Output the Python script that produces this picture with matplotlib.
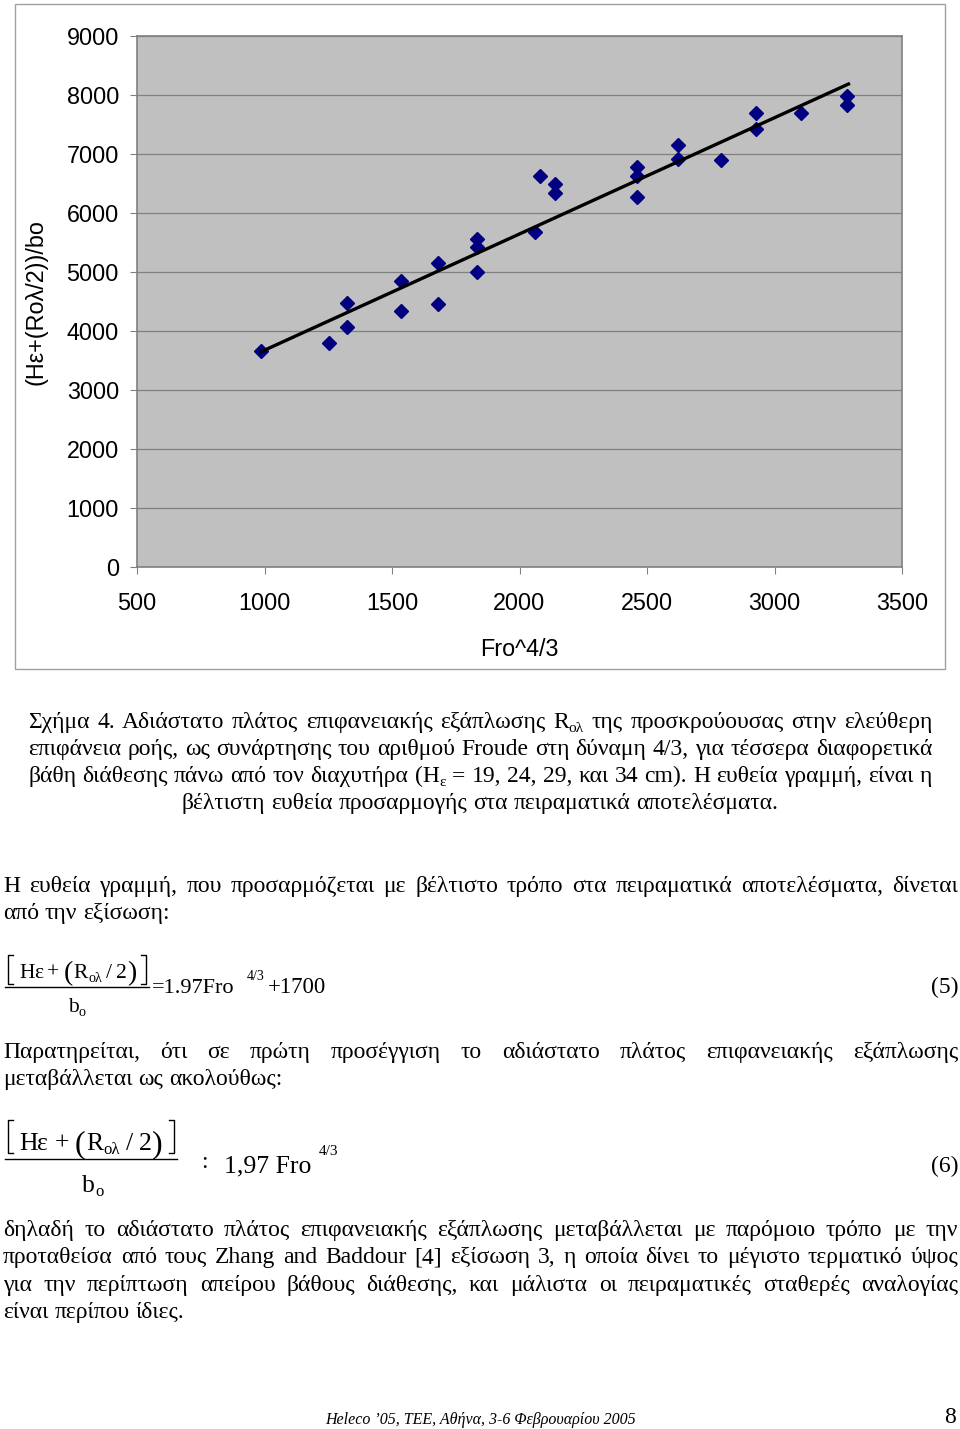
import matplotlib
matplotlib.use("Agg")
import matplotlib.pyplot as plt
from matplotlib.patches import Rectangle

# ---- chart data -------------------------------------------------------
fro43 = [985, 1253, 1322, 1322, 1535, 1535, 1682, 1682, 1832, 1832, 1832,
         2061, 2080, 2139, 2139, 2460, 2460, 2460, 2623, 2623, 2789,
         2927, 2927, 3105, 3285, 3285]
width_ratio = [3651, 3786, 4464, 4058, 4837, 4329, 5142, 4458, 5549, 5419, 4995,
               5668, 6617, 6481, 6339, 6780, 6622, 6271, 7153, 6910, 6888,
               7695, 7414, 7695, 7978, 7825]
fit_x = [985, 3290]          # best-fit line ends: y = 1.97 x + 1700
fit_y = [3640, 8181]
x_ticks = [500, 1000, 1500, 2000, 2500, 3000, 3500]
y_ticks = [0, 1000, 2000, 3000, 4000, 5000, 6000, 7000, 8000, 9000]
x_label = "Fro^4/3"
y_label = "(Hε+(Roλ/2))/bo"

# ---- page text ---------------------------------------------------------
caption_lines = [
    "Σχήμα 4. Αδιάστατο πλάτος επιφανειακής εξάπλωσης R_{ολ} της προσκρούουσας στην ελεύθερη",
    "επιφάνεια ροής, ως συνάρτησης του αριθμού Froude στη δύναμη 4/3, για τέσσερα διαφορετικά",
    "βάθη διάθεσης πάνω από τον διαχυτήρα (H_{ε} = 19, 24, 29, και 34 cm). Η ευθεία γραμμή, είναι η",
    "βέλτιστη ευθεία προσαρμογής στα πειραματικά αποτελέσματα.",
]
para1 = [
    "Η ευθεία γραμμή, που προσαρμόζεται με βέλτιστο τρόπο στα πειραματικά αποτελέσματα, δίνεται",
    "από την εξίσωση:",
]
para2 = [
    "Παρατηρείται, ότι σε πρώτη προσέγγιση το αδιάστατο πλάτος επιφανειακής εξάπλωσης",
    "μεταβάλλεται ως ακολούθως:",
]
para3 = [
    "δηλαδή το αδιάστατο πλάτος επιφανειακής εξάπλωσης μεταβάλλεται με παρόμοιο τρόπο με την",
    "προταθείσα από τους Zhang and Baddour [4] εξίσωση 3, η οποία δίνει το μέγιστο τερματικό ύψος",
    "για την περίπτωση απείρου βάθους διάθεσης, και μάλιστα οι πειραματικές σταθερές αναλογίας",
    "είναι περίπου ίδιες.",
]
footer = "Heleco ’05, ΤΕΕ, Αθήνα, 3-6 Φεβρουαρίου 2005"
page_no = "8"

SANS = ["Liberation Sans", "DejaVu Sans"]
SERIF = ["Liberation Serif", "DejaVu Serif"]
BODY = 17

fig = plt.figure(figsize=(9.6, 14.29), dpi=100)
page = fig.add_axes([0, 0, 1, 1])
page.set_xlim(0, 960)
page.set_ylim(1429, 0)
page.axis("off")
page.add_patch(Rectangle((15, 4), 930, 665, fill=False, ec="#a0a0a0", lw=1))

# ---- chart -------------------------------------------------------------
ax = fig.add_axes([137 / 960, 1 - 566.7 / 1429, 765 / 960, 531 / 1429])
ax.set_facecolor("#c0c0c0")
for s in ax.spines.values():
    s.set_color("#808080")
    s.set_linewidth(1.2)
ax.set_xlim(500, 3500)
ax.set_ylim(0, 9000)
ax.set_xticks(x_ticks)
ax.set_yticks(y_ticks)
ax.set_xticklabels([str(v) for v in x_ticks], family=SANS, fontsize=16.8)
ax.set_yticklabels([str(v) for v in y_ticks], family=SANS, fontsize=16.8)
ax.tick_params(axis="both", direction="out", length=5, width=0.8, color="#808080")
ax.tick_params(axis="y", pad=8)
ax.tick_params(axis="x", pad=13)
ax.yaxis.grid(True, color="#808080", lw=0.9)
ax.set_axisbelow(True)
ax.plot(fro43, width_ratio, "D", color="#000080", ms=6.8, mec="#000080", zorder=3)
ax.plot(fit_x, fit_y, "-", color="black", lw=2.4, zorder=4)

page.text(519.5, 649, x_label, ha="center", va="center", fontsize=16.8, family=SANS)
page.text(36, 302, y_label, ha="center", va="center", rotation=90, fontsize=16.8, family=SANS)

# ---- text helpers --------------------------------------------------------
R = fig.canvas.get_renderer()


def text_w(s, size, **kw):
    t = page.text(0, 0, s, fontsize=size, family=SERIF, **kw)
    w = t.get_window_extent(R).width
    t.remove()
    return w


def word_runs(word):
    out, i = [], 0
    while i < len(word):
        j = word.find("_{", i)
        if j < 0:
            out.append((word[i:], False))
            break
        if j > i:
            out.append((word[i:j], False))
        k = word.find("}", j)
        out.append((word[j + 2:k], True))
        i = k + 1
    return out


def runs_w(runs, size):
    return sum(text_w(s, size * 0.65 if sub else size) for s, sub in runs)


def put_runs(x, y, runs, size, **kw):
    for s, sub in runs:
        fs = size * 0.65 if sub else size
        page.text(x, y + (4 if sub else 0), s, fontsize=fs, family=SERIF,
                  ha="left", va="baseline", **kw)
        x += text_w(s, fs)
    return x


def draw_line(text, x0, x1, y, size=BODY, align="justify"):
    words = [word_runs(w) for w in text.split()]
    ws = [runs_w(r, size) for r in words]
    space = text_w("a a", size) - text_w("aa", size)
    if align == "justify" and len(words) > 1:
        gap, x = (x1 - x0 - sum(ws)) / (len(words) - 1), x0
    else:
        gap = space
        total = sum(ws) + gap * (len(words) - 1)
        x = x0 if align == "left" else (x0 + x1 - total) / 2
    for r, w in zip(words, ws):
        put_runs(x, y, r, size)
        x += w + gap


def paragraph(lines, x0, x1, y0, step, size=BODY):
    for i, ln in enumerate(lines):
        last = i == len(lines) - 1
        draw_line(ln, x0, x1, y0 + i * step, size, "left" if last else "justify")


# caption (justified, last line centred)
for i, ln in enumerate(caption_lines):
    last = i == len(caption_lines) - 1
    draw_line(ln, 28, 932, 728 + i * 27, BODY, "center" if last else "justify")

paragraph(para1, 3, 958, 892, 27)
paragraph(para2, 3, 958, 1058, 27)
paragraph(para3, 3, 958, 1236, 27.3)


# ---- equations -----------------------------------------------------------
def bracket(x, y0, y1, d):
    page.plot([x + d, x, x, x + d], [y0, y0, y1, y1], color="black", lw=1.0)


def fraction(x0, x1, ynum, yline, yden, xden, ytop, ybot, size, psize, sp):
    bracket(x0 + 3, ytop, ybot, 5)
    x = x0 + 14
    x = put_runs(x, ynum, [("H", False)], size)
    x = put_runs(x, ynum, [("ε", False)], size)
    x = put_runs(x + sp, ynum, [("+", False)], size)
    x = put_runs(x + sp, ynum + 2, [("(", False)], psize)
    x = put_runs(x + 1, ynum, [("R", False), ("ολ", True)], size)
    x = put_runs(x + sp, ynum, [("/", False)], size)
    x = put_runs(x + sp, ynum, [("2", False)], size)
    x = put_runs(x, ynum + 2, [(")", False)], psize)
    bracket(x1 - 3, ytop, ybot, -5)
    page.plot([x0, x1], [yline, yline], color="black", lw=1.0)
    put_runs(xden, yden, [("b", False), ("o", True)], size)


# (5)
fraction(5, 149, 978, 987, 1012, 68, 955, 984, 15.5, 20, 4)
page.text(152, 993, "=1.97Fro", fontsize=16, family=SERIF, va="baseline")
page.text(247, 980, "4/3", fontsize=10, family=SERIF, va="baseline")
page.text(268, 993, "+1700", fontsize=16.5, family=SERIF, va="baseline")
page.text(958, 993, "(5)", fontsize=17, family=SERIF, va="baseline", ha="right")

# (6)
fraction(5, 177, 1150, 1159, 1192, 82, 1120, 1153, 18.5, 23, 6)
page.text(201, 1168, ":", fontsize=17, family=SERIF, va="baseline")
page.text(224, 1172, "1,97 Fro", fontsize=18.5, family=SERIF, va="baseline")
page.text(319, 1155, "4/3", fontsize=11, family=SERIF, va="baseline")
page.text(958, 1172, "(6)", fontsize=17, family=SERIF, va="baseline", ha="right")

# footer
page.text(325, 1424, footer, fontsize=11.5, family=SERIF, style="italic", va="baseline")
page.text(956, 1428, page_no, fontsize=17, family=SERIF, va="bottom", ha="right")

fig.savefig("out.png", dpi=100)
